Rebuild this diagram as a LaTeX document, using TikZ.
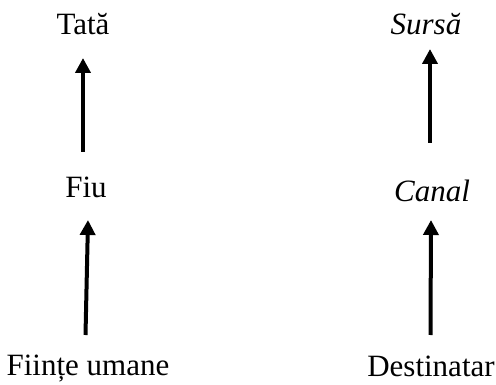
\documentclass[tikz,border=0pt]{standalone}
\usepackage{fontspec}
\setmainfont{Liberation Serif}
\usetikzlibrary{arrows.meta}
\begin{document}
\begin{tikzpicture}[x=1pt,y=-1pt,
  lbl/.style={inner sep=0pt,anchor=base,font=\fontsize{31}{36}\selectfont},
  arr/.style={line width=4pt,-{Triangle[length=15pt,width=15pt]}}]
\useasboundingbox (0,0) rectangle (496,385);
\node[lbl] (tata) at (83,35) {Tată};
\node[lbl] (sursa) at (426,35) {\itshape Sursă};
\node[lbl] (fiu) at (86,198) {Fiu};
\node[lbl] (canal) at (432,202) {\itshape Canal};
\node[lbl] (fiinte) at (88,375) {Ființe umane};
\node[lbl] (dest) at (431,376) {Destinatar};
\coordinate (a1s) at (83,152);
\coordinate (a1e) at (83,58);
\coordinate (a2s) at (430,143);
\coordinate (a2e) at (430,49);
\coordinate (a3s) at (85.5,335);
\coordinate (a3e) at (88,220);
\coordinate (a4s) at (430.5,335);
\coordinate (a4e) at (431,220);
\draw[arr] (a1s) -- (a1e);
\draw[arr] (a2s) -- (a2e);
\draw[arr] (a3s) -- (a3e);
\draw[arr] (a4s) -- (a4e);
\end{tikzpicture}
\end{document}
